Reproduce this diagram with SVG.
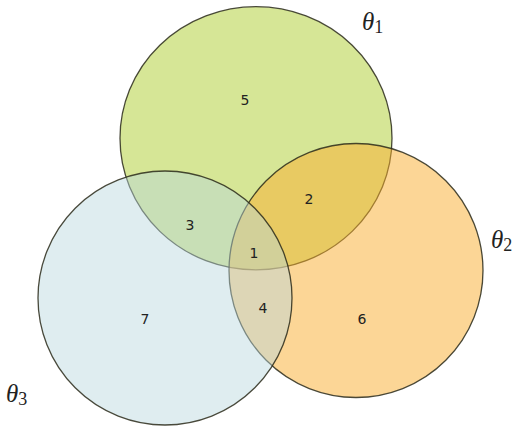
<svg xmlns="http://www.w3.org/2000/svg" width="514" height="428" viewBox="0 0 514 428">
<style>
.c{stroke:#2a2a1a;stroke-width:1.3;stroke-opacity:0.85}
.n{font-family:"DejaVu Sans","Liberation Sans",sans-serif;font-size:14px;fill:#222;text-anchor:middle}
.t{font-family:"Liberation Serif","DejaVu Serif",serif;font-style:italic;font-size:25px;fill:#222}
.s{font-family:"Liberation Serif","DejaVu Serif",serif;font-size:18px;fill:#222}
</style>
<rect width="514" height="428" fill="#ffffff"/>
<g id="sets">
<g id="theta1"><ellipse class="c" cx="256" cy="138.3" rx="136" ry="131.6" fill="#adcd2d" fill-opacity="0.5"/></g>
<g id="theta2"><circle class="c" cx="356" cy="270.5" r="127" fill="#f9ad2d" fill-opacity="0.5"/></g>
<g id="theta3"><circle class="c" cx="165" cy="298" r="127" fill="#b8d8de" fill-opacity="0.45"/></g>
</g>
<g id="labels">
<text class="n" x="245" y="105">5</text>
<text class="n" x="309" y="204">2</text>
<text class="n" x="190" y="230">3</text>
<text class="n" x="254" y="258">1</text>
<text class="n" x="263" y="313">4</text>
<text class="n" x="145" y="324">7</text>
<text class="n" x="362" y="324">6</text>
</g>
<g id="names">
<text x="362" y="30"><tspan class="t">θ</tspan><tspan class="s" dy="3">1</tspan></text>
<text x="491" y="248"><tspan class="t">θ</tspan><tspan class="s" dy="3">2</tspan></text>
<text x="6" y="402"><tspan class="t">θ</tspan><tspan class="s" dy="3">3</tspan></text>
</g>
</svg>
